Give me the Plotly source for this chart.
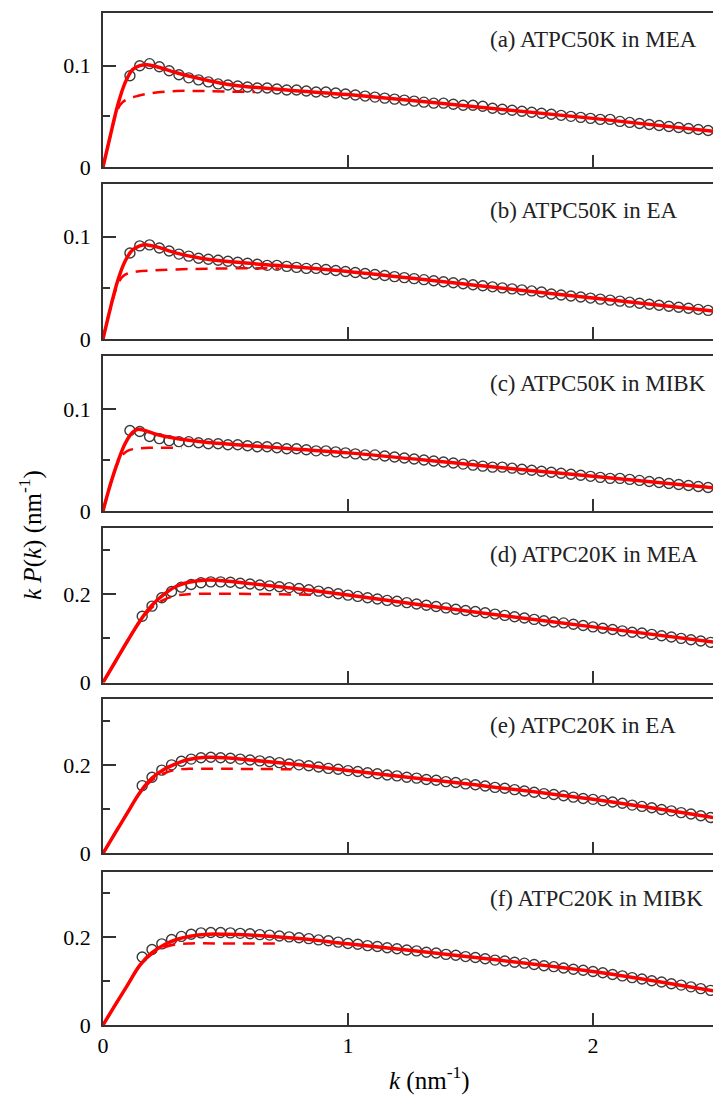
import plotly.graph_objects as go

# ---------------- data ----------------
k50 = [0.11, 0.15, 0.19, 0.23, 0.27, 0.31, 0.35, 0.39, 0.43, 0.47, 0.51, 0.55, 0.59, 0.63, 0.67,
       0.71, 0.75, 0.79, 0.83, 0.87, 0.91, 0.95, 0.99, 1.03, 1.07, 1.11, 1.15, 1.19, 1.23, 1.27,
       1.31, 1.35, 1.39, 1.43, 1.47, 1.51, 1.55, 1.59, 1.63, 1.67, 1.71, 1.75, 1.79, 1.83, 1.87,
       1.91, 1.95, 1.99, 2.03, 2.07, 2.11, 2.15, 2.19, 2.23, 2.27, 2.31, 2.35, 2.39, 2.43, 2.47]
k20 = [0.16, 0.20, 0.24, 0.28, 0.32, 0.36, 0.40, 0.44, 0.48, 0.52, 0.56, 0.60, 0.64, 0.68, 0.72,
       0.76, 0.80, 0.84, 0.88, 0.92, 0.96, 1.00, 1.04, 1.08, 1.12, 1.16, 1.20, 1.24, 1.28, 1.32,
       1.36, 1.40, 1.44, 1.48, 1.52, 1.56, 1.60, 1.64, 1.68, 1.72, 1.76, 1.80, 1.84, 1.88, 1.92,
       1.96, 2.00, 2.04, 2.08, 2.12, 2.16, 2.20, 2.24, 2.28, 2.32, 2.36, 2.40, 2.44, 2.48]

data_a = [0.090, 0.100, 0.102, 0.099, 0.095, 0.091, 0.088, 0.086, 0.084, 0.082, 0.081, 0.080, 0.079,
          0.078, 0.078, 0.077, 0.076, 0.076, 0.075, 0.074, 0.074, 0.073, 0.072,
          0.071, 0.070, 0.069, 0.068, 0.067, 0.066, 0.065, 0.064, 0.063, 0.063, 0.062, 0.061, 0.061,
          0.060, 0.058, 0.057, 0.056, 0.055, 0.054, 0.053, 0.052, 0.051, 0.050, 0.049, 0.048, 0.047,
          0.047, 0.045, 0.044, 0.043, 0.042, 0.041, 0.040, 0.039, 0.038, 0.037, 0.036]
data_b = [0.084, 0.091, 0.092, 0.089, 0.086, 0.083, 0.081, 0.079, 0.078, 0.077, 0.076, 0.075, 0.074,
          0.073, 0.072, 0.072, 0.071, 0.070, 0.069, 0.069, 0.068, 0.067, 0.066,
          0.065, 0.064, 0.063, 0.062, 0.061, 0.060, 0.059, 0.058, 0.057, 0.056, 0.055, 0.054, 0.053,
          0.052, 0.051, 0.050, 0.049, 0.048, 0.047, 0.046, 0.044, 0.043, 0.042, 0.041, 0.040, 0.039,
          0.038, 0.037, 0.036, 0.035, 0.034, 0.033, 0.032, 0.031, 0.030, 0.029, 0.028]
data_c = [0.079, 0.078, 0.073, 0.071, 0.069, 0.068, 0.068, 0.067, 0.066, 0.066, 0.065, 0.065, 0.064,
          0.063, 0.063, 0.062, 0.061, 0.061, 0.060, 0.059, 0.059, 0.058, 0.057,
          0.056, 0.055, 0.055, 0.054, 0.053, 0.052, 0.051, 0.050, 0.049, 0.048, 0.047, 0.046, 0.045,
          0.044, 0.043, 0.043, 0.042, 0.041, 0.040, 0.039, 0.038, 0.037, 0.036, 0.035, 0.034, 0.033,
          0.032, 0.032, 0.031, 0.030, 0.029, 0.028, 0.027, 0.026, 0.025, 0.024, 0.023]
data_d = [0.150, 0.173, 0.192, 0.206, 0.216, 0.222, 0.226, 0.228, 0.228, 0.227, 0.225, 0.223, 0.221,
          0.219, 0.217, 0.215, 0.213, 0.210, 0.207, 0.204, 0.201, 0.198,
          0.195, 0.192, 0.189, 0.186, 0.184, 0.181, 0.178, 0.175, 0.172, 0.169, 0.166, 0.163, 0.161,
          0.158, 0.155, 0.152, 0.149, 0.146, 0.143, 0.140, 0.137, 0.135, 0.132, 0.129, 0.126, 0.123,
          0.120, 0.117, 0.114, 0.112, 0.109, 0.106, 0.103, 0.100, 0.097, 0.094, 0.091]
data_e = [0.153, 0.172, 0.188, 0.200, 0.208, 0.213, 0.216, 0.217, 0.216, 0.215, 0.213, 0.211, 0.209,
          0.207, 0.205, 0.202, 0.200, 0.198, 0.195, 0.192, 0.190, 0.187,
          0.185, 0.182, 0.180, 0.177, 0.175, 0.172, 0.170, 0.167, 0.165, 0.162, 0.160, 0.157, 0.155,
          0.152, 0.149, 0.147, 0.144, 0.141, 0.138, 0.135, 0.133, 0.130, 0.127, 0.124, 0.122, 0.119,
          0.116, 0.113, 0.109, 0.106, 0.103, 0.099, 0.096, 0.092, 0.089, 0.085, 0.081]
data_f = [0.155, 0.172, 0.185, 0.195, 0.202, 0.207, 0.210, 0.211, 0.211, 0.210, 0.209, 0.208, 0.206,
          0.205, 0.203, 0.201, 0.199, 0.197, 0.194, 0.192, 0.189, 0.186,
          0.184, 0.181, 0.179, 0.176, 0.174, 0.171, 0.169, 0.166, 0.164, 0.161, 0.159, 0.156, 0.154,
          0.151, 0.148, 0.146, 0.143, 0.141, 0.138, 0.135, 0.133, 0.130, 0.127, 0.125, 0.122, 0.119,
          0.115, 0.112, 0.108, 0.105, 0.101, 0.098, 0.094, 0.091, 0.087, 0.083, 0.079]

# fitted curves (solid) and dashed component
fit_k_a = [0, 0.03, 0.06, 0.09, 0.12, 0.15, 0.18, 0.22, 0.30, 0.40, 0.50, 0.60, 0.80, 1.00, 1.50, 2.00, 2.50]
fit_a = [0, 0.031, 0.061, 0.083, 0.096, 0.100, 0.101, 0.099, 0.093, 0.087, 0.082, 0.079, 0.075, 0.0715, 0.060, 0.048, 0.035]
dash_k_a = [0, 0.03, 0.06, 0.08, 0.10, 0.14, 0.20, 0.30, 0.40, 0.50, 0.62]
dash_a = [0, 0.031, 0.057, 0.064, 0.067, 0.070, 0.073, 0.075, 0.075, 0.0745, 0.074]

fit_k_b = [0, 0.03, 0.06, 0.09, 0.12, 0.15, 0.18, 0.22, 0.30, 0.40, 0.50, 0.70, 1.00, 1.50, 2.00, 2.50]
fit_b = [0, 0.030, 0.057, 0.076, 0.087, 0.091, 0.092, 0.090, 0.084, 0.079, 0.076, 0.072, 0.066, 0.053, 0.040, 0.027]
dash_k_b = [0, 0.03, 0.06, 0.08, 0.10, 0.14, 0.20, 0.30, 0.50, 0.72]
dash_b = [0, 0.030, 0.053, 0.061, 0.064, 0.066, 0.067, 0.068, 0.069, 0.069]

fit_k_c = [0, 0.03, 0.06, 0.09, 0.12, 0.14, 0.17, 0.22, 0.30, 0.40, 0.60, 1.00, 1.50, 2.00, 2.50]
fit_c = [0, 0.026, 0.048, 0.066, 0.077, 0.080, 0.079, 0.075, 0.071, 0.068, 0.064, 0.057, 0.0455, 0.034, 0.0225]
dash_k_c = [0, 0.03, 0.06, 0.08, 0.10, 0.13, 0.20, 0.32]
dash_c = [0, 0.026, 0.047, 0.055, 0.059, 0.061, 0.062, 0.062]

fit_k_d = [0, 0.05, 0.10, 0.15, 0.20, 0.25, 0.30, 0.35, 0.43, 0.50, 0.60, 0.80, 1.00, 1.50, 2.00, 2.50]
fit_d = [0, 0.047, 0.094, 0.139, 0.175, 0.200, 0.218, 0.227, 0.232, 0.230, 0.224, 0.212, 0.198, 0.161, 0.126, 0.091]
dash_k_d = [0, 0.05, 0.10, 0.15, 0.20, 0.25, 0.30, 0.35, 0.50, 0.70, 0.85]
dash_d = [0, 0.047, 0.094, 0.137, 0.170, 0.188, 0.197, 0.200, 0.201, 0.200, 0.199]

fit_k_e = [0, 0.05, 0.10, 0.15, 0.20, 0.25, 0.30, 0.35, 0.43, 0.50, 0.60, 0.80, 1.00, 1.50, 2.00, 2.50]
fit_e = [0, 0.046, 0.092, 0.137, 0.170, 0.190, 0.203, 0.212, 0.217, 0.216, 0.211, 0.200, 0.187, 0.156, 0.122, 0.080]
dash_k_e = [0, 0.05, 0.10, 0.15, 0.20, 0.25, 0.30, 0.35, 0.50, 0.77]
dash_e = [0, 0.046, 0.092, 0.136, 0.165, 0.181, 0.189, 0.191, 0.191, 0.190]

fit_k_f = [0, 0.05, 0.10, 0.15, 0.20, 0.25, 0.30, 0.35, 0.43, 0.50, 0.60, 0.80, 1.00, 1.50, 2.00, 2.50]
fit_f = [0, 0.046, 0.091, 0.136, 0.165, 0.183, 0.195, 0.202, 0.207, 0.207, 0.205, 0.197, 0.185, 0.155, 0.122, 0.077]
dash_k_f = [0, 0.05, 0.10, 0.15, 0.20, 0.25, 0.30, 0.36, 0.50, 0.72]
dash_f = [0, 0.046, 0.091, 0.135, 0.162, 0.177, 0.184, 0.186, 0.186, 0.186]

labels = ["(a) ATPC50K in MEA", "(b) ATPC50K in EA", "(c) ATPC50K in MIBK",
          "(d) ATPC20K in MEA", "(e) ATPC20K in EA", "(f) ATPC20K in MIBK"]
x_ticks = [0, 1, 2]
x_ticktext = ["0", "1", "2"]

panels = [
    (k50, data_a, fit_k_a, fit_a, dash_k_a, dash_a),
    (k50, data_b, fit_k_b, fit_b, dash_k_b, dash_b),
    (k50, data_c, fit_k_c, fit_c, dash_k_c, dash_c),
    (k20, data_d, fit_k_d, fit_d, dash_k_d, dash_d),
    (k20, data_e, fit_k_e, fit_e, dash_k_e, dash_e),
    (k20, data_f, fit_k_f, fit_f, dash_k_f, dash_f),
]

# ---------------- layout geometry ----------------
H = 1097
T, B = 13, 72
plot_h = H - T - B
bottom_px = 1025
tops = [13, 183.5, 356, 528, 698.5, 871.5]
bots = [167, 339, 511, 682.5, 853.3, 1025]

FONT = "Liberation Serif, Times New Roman, serif"
AXC = "#333333"

fig = go.Figure()
layout = dict(
    width=713, height=H,
    margin=dict(l=103, r=0, t=T, b=B),
    plot_bgcolor="white", paper_bgcolor="white",
    showlegend=False,
    font=dict(family=FONT, size=22, color="black"),
)
annotations = []

for i, (kx, dy, fk, fy, dk, dyy) in enumerate(panels):
    n = i + 1
    xa = "x" if n == 1 else f"x{n}"
    ya = "y" if n == 1 else f"y{n}"
    assert len(kx) == len(dy), (i, len(kx), len(dy))
    fig.add_trace(go.Scatter(x=kx, y=dy, mode="markers", xaxis=xa, yaxis=ya,
                             marker=dict(symbol="circle-open", size=10,
                                         color="#3a3a3a", line=dict(width=1.4, color="#3a3a3a"))))
    fig.add_trace(go.Scatter(x=dk, y=dyy, mode="lines", xaxis=xa, yaxis=ya,
                             line=dict(color="#ff0000", width=2.5, dash="12px,8px", shape="spline")))
    fig.add_trace(go.Scatter(x=fk, y=fy, mode="lines", xaxis=xa, yaxis=ya,
                             line=dict(color="#ff0000", width=3.5, shape="spline")))

    d0 = (bottom_px - bots[i]) / plot_h
    d1 = (bottom_px - tops[i]) / plot_h
    small = i < 3
    layout["xaxis" if n == 1 else f"xaxis{n}"] = dict(
        domain=[0, 1], anchor=ya, range=[0, 2.49],
        tickvals=x_ticks, ticktext=x_ticktext, ticks="inside", ticklen=12,
        tickwidth=1.5, tickcolor=AXC,
        showticklabels=(n == 6), showline=True, mirror=True, linecolor=AXC, linewidth=1.5,
        showgrid=False, zeroline=False,
        tickfont=dict(family=FONT, size=22, color="black"),
    )
    layout["yaxis" if n == 1 else f"yaxis{n}"] = dict(
        domain=[d0, d1], anchor=xa,
        range=[0, 0.152] if small else [0, 0.35],
        tickvals=[0, 0.1] if small else [0, 0.2],
        ticktext=["0", "0.1"] if small else ["0", "0.2"],
        ticks="inside", ticklen=13, tickwidth=1.5, tickcolor=AXC,
        minor=dict(tickvals=[0.05] if small else [0.1, 0.3], ticks="inside",
                   ticklen=7, tickwidth=1.5, tickcolor=AXC),
        showline=True, mirror=False, linecolor=AXC, linewidth=1.5,
        showgrid=False, zeroline=False,
        tickfont=dict(family=FONT, size=22, color="black"),
        ticklabelstandoff=6,
    )
    annotations.append(dict(
        text=labels[i], xref="paper", yref=f"{ya} domain",
        x=(487.5 - 103) / 610, y=1 - 27 / 155, xanchor="left", yanchor="middle",
        showarrow=False, font=dict(family=FONT, size=23, color="#222")))

annotations.append(dict(
    text="<i>k</i> (nm<sup>-1</sup>)", xref="paper", yref="paper",
    x=(429 - 103) / 610, y=(bottom_px - 1078) / plot_h, xanchor="center", yanchor="middle",
    showarrow=False, font=dict(family=FONT, size=25, color="black")))
annotations.append(dict(
    text="<i>k</i> <i>P</i>(<i>k</i>) (nm<sup>-1</sup>)", xref="paper", yref="paper",
    x=(30 - 103) / 610, y=(bottom_px - 535) / plot_h, xanchor="center", yanchor="middle",
    textangle=-90, showarrow=False, font=dict(family=FONT, size=25, color="black")))

layout["annotations"] = annotations
fig.update_layout(**layout)
fig.write_html("out.html")
